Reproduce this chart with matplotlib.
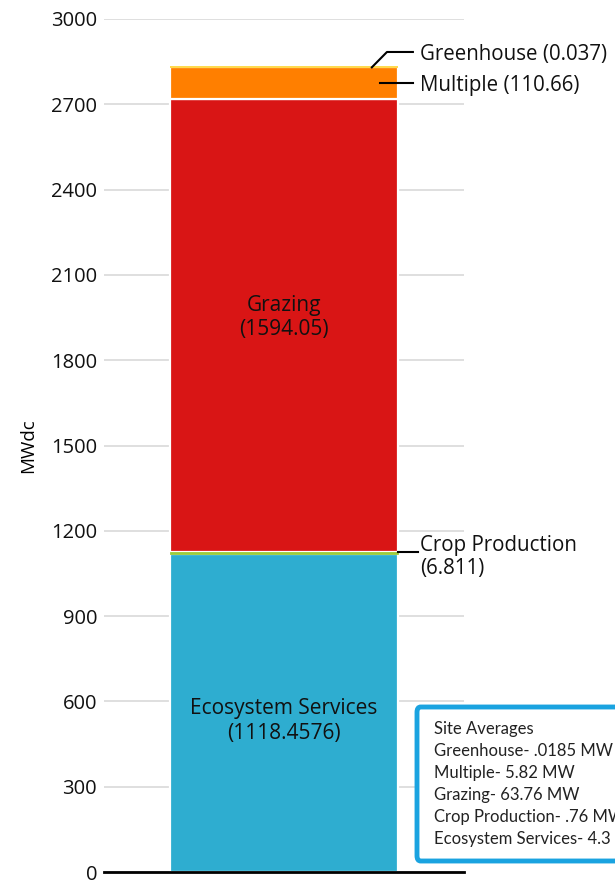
import matplotlib.pyplot as plt
from matplotlib.patches import FancyBboxPatch

# stacked segments, bottom to top
uses = ['Ecosystem Services', 'Crop Production', 'Grazing', 'Multiple', 'Greenhouse']
mwdc = [1118.4576, 6.811, 1594.05, 110.66, 0.037]
colors = ['#2eadd0', '#9ccb3b', '#d91515', '#ff7f00', '#ffd94a']
yticks = [0, 300, 600, 900, 1200, 1500, 1800, 2100, 2400, 2700, 3000]

site_avg_title = 'Site Averages'
site_avg = ['Greenhouse- .0185 MW', 'Multiple- 5.82 MW', 'Grazing- 63.76 MW',
            'Crop Production- .76 MW', 'Ecosystem Services- 4.3 MW']

plt.rcParams['font.family'] = ['Open Sans', 'DejaVu Sans']

fig = plt.figure(figsize=(6.15, 8.86), dpi=100)
ax = fig.add_axes([104/615, 1-872/886, 360/615, 853/886])
ax.set_xlim(0, 1)
ax.set_ylim(0, 3000)

bottom = 0
tops = []
for name, val, c in zip(uses, mwdc, colors):
    if val < 1:
        ec, lw, z = c, 1.4, 3      # too thin to see, give it an outline
    elif val < 20:
        ec, lw, z = c, 0.6, 3
    else:
        ec, lw, z = 'white', 1.6, 2
    ax.bar(0.5, val, width=0.633, bottom=bottom, color=c,
           edgecolor=ec, linewidth=lw, zorder=z)
    bottom += val
    tops.append(bottom)

ax.set_yticks(yticks)
ax.tick_params(axis='y', length=0, pad=5, labelsize=14.5, labelcolor='#111111')
ax.set_xticks([])
for s in ['left', 'right', 'top']:
    ax.spines[s].set_visible(False)
ax.spines['bottom'].set_linewidth(2)
ax.spines['bottom'].set_color('black')
ax.grid(axis='y', color='#d9d9d9', linewidth=1.2, zorder=0)
ax.set_axisbelow(True)
ax.set_ylabel('MWdc', fontsize=13.5, labelpad=10)

# labels inside the bar
ax.text(0.5, 532, 'Ecosystem Services\n(1118.4576)', ha='center', va='center',
        fontsize=15, color='#111111', linespacing=1.25)
ax.text(0.5, 1949, 'Grazing\n(1594.05)', ha='center', va='center',
        fontsize=15, color='#111111', linespacing=1.2)

# leader lines and side labels
tr = ax.get_yaxis_transform()
ax.plot([0.744, 0.786, 0.858], [tops[4], 2884, 2884], color='black', lw=1.5,
        transform=tr, clip_on=False, zorder=4)
ax.text(0.878, 2875, 'Greenhouse (0.037)', transform=tr, va='center',
        fontsize=14.8, color='#111111')
ax.plot([0.767, 0.858], [2775, 2775], color='black', lw=1.5, transform=tr,
        clip_on=False, zorder=4)
ax.text(0.878, 2766, 'Multiple (110.66)', transform=tr, va='center',
        fontsize=14.8, color='#111111')
ax.plot([0.817, 0.872], [1125, 1125], color='black', lw=1.5, transform=tr,
        clip_on=False, zorder=4)
ax.text(0.878, 1107, 'Crop Production\n(6.811)', transform=tr, va='center',
        fontsize=14.8, linespacing=1.12, color='#111111')

# site averages box
box = FancyBboxPatch((417/615, 1-861/886), 230/615, 154/886,
                     boxstyle='round,pad=0,rounding_size=0.006',
                     transform=fig.transFigure, facecolor='white',
                     edgecolor='#1aa3e0', linewidth=3.5, clip_on=False)
fig.patches.append(box)
lines = [site_avg_title] + site_avg
for i, t in enumerate(lines):
    fig.text(434/615, 1-(729 + 22*i)/886, t, va='center', ha='left',
             fontsize=12, family=['Lato', 'DejaVu Sans'], color='#222222')

fig.savefig('out.png', dpi=100)
